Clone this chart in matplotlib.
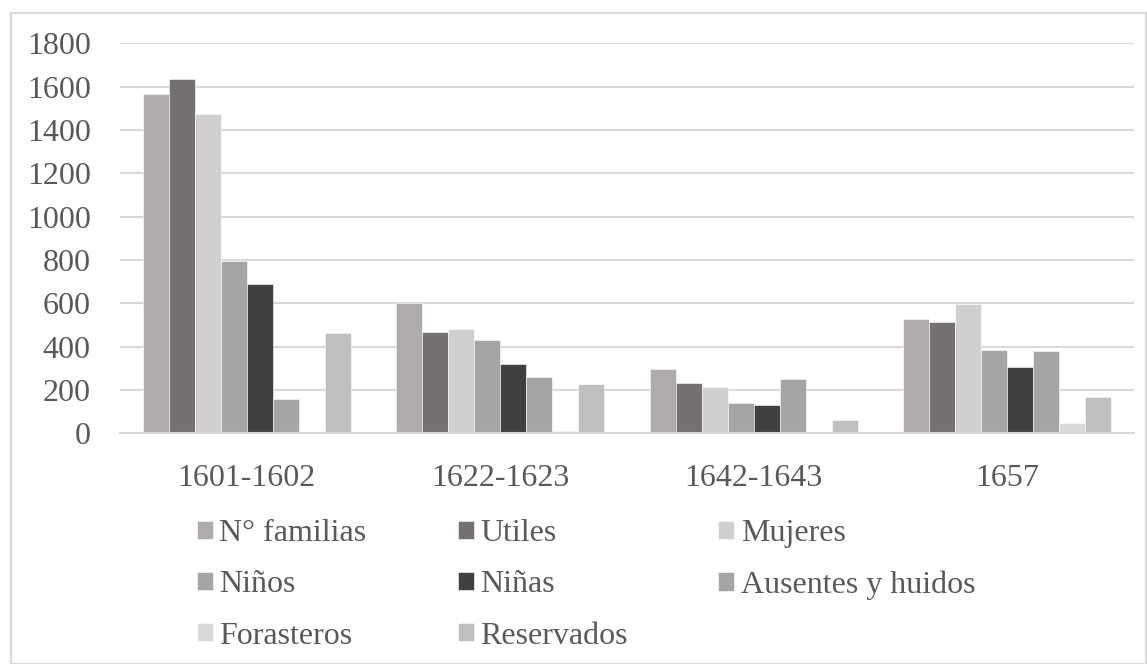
import numpy as np
import matplotlib
matplotlib.use("Agg")
import matplotlib.pyplot as plt
from matplotlib.patches import Rectangle

periods = ["1601-1602", "1622-1623", "1642-1643", "1657"]
series_names = ["N° familias", "Utiles", "Mujeres", "Niños", "Niñas",
                "Ausentes y huidos", "Forasteros", "Reservados"]
familias = [1565, 603, 298, 529]
utiles = [1634, 469, 232, 512]
mujeres = [1475, 483, 215, 597]
ninos = [795, 429, 142, 386]
ninas = [691, 320, 131, 308]
ausentes = [157, 260, 249, 378]
forasteros = [0, 10, 5, 49]
reservados = [465, 229, 63, 168]
colors = ["#AFABAB", "#767171", "#D0CECE", "#A5A5A5", "#404040",
          "#A5A5A5", "#D9D9D9", "#BFBFBF"]

values = [familias, utiles, mujeres, ninos, ninas, ausentes, forasteros, reservados]

W, H = 1147, 664
FS = 23
plt.rcParams['font.family'] = ['Liberation Serif', 'DejaVu Serif']
fig = plt.figure(figsize=(W / 100, H / 100), dpi=100)
ax = fig.add_axes([120 / W, 1 - 433.3 / H, 1014 / W, 390 / H])

x = np.arange(len(periods))
bw = 0.1025
for i, (name, vals) in enumerate(zip(series_names, values)):
    offs = (i - 3.5) * bw
    ax.bar(x + offs, vals, width=bw, color=colors[i], label=name, zorder=3,
           edgecolor='white', linewidth=0.4)

ax.set_xlim(-0.5, 3.5)
ax.set_ylim(0, 1800)
ax.set_yticks(range(0, 1801, 200))
ax.set_xticks(x)
ax.set_xticklabels(periods)
ax.grid(axis='y', color='#D9D9D9', linewidth=1.5, zorder=0)
for s in ['top', 'right', 'left']:
    ax.spines[s].set_visible(False)
ax.spines['bottom'].set_color('#D9D9D9')
ax.spines['bottom'].set_linewidth(1.5)
ax.spines['bottom'].set_zorder(4)
ax.tick_params(axis='both', length=0, labelsize=FS, labelcolor='#595959')
ax.tick_params(axis='y', pad=21.0)
ax.tick_params(axis='x', pad=22)

# legend order so rows read like the original (column-major fill)
handles, labels = ax.get_legend_handles_labels()
order = [0, 3, 6, 1, 4, 7, 2, 5]
leg = fig.legend([handles[k] for k in order], [labels[k] for k in order],
                 ncol=3, loc='upper left', bbox_to_anchor=(197 / W, 1 - 519 / H),
                 frameon=False, fontsize=FS, handlelength=0.5, handleheight=0.5,
                 handletextpad=0.2, columnspacing=2.85, labelspacing=0.70,
                 borderpad=0, borderaxespad=0)
for t in leg.get_texts():
    t.set_color('#595959')

# outer chart border
fig.patches.append(Rectangle((11 / W, 0), 1 - 12 / W, 1 - 13 / H, transform=fig.transFigure,
                             fill=False, edgecolor='#D9D9D9', linewidth=1.5))

fig.savefig("out.png", dpi=100)
